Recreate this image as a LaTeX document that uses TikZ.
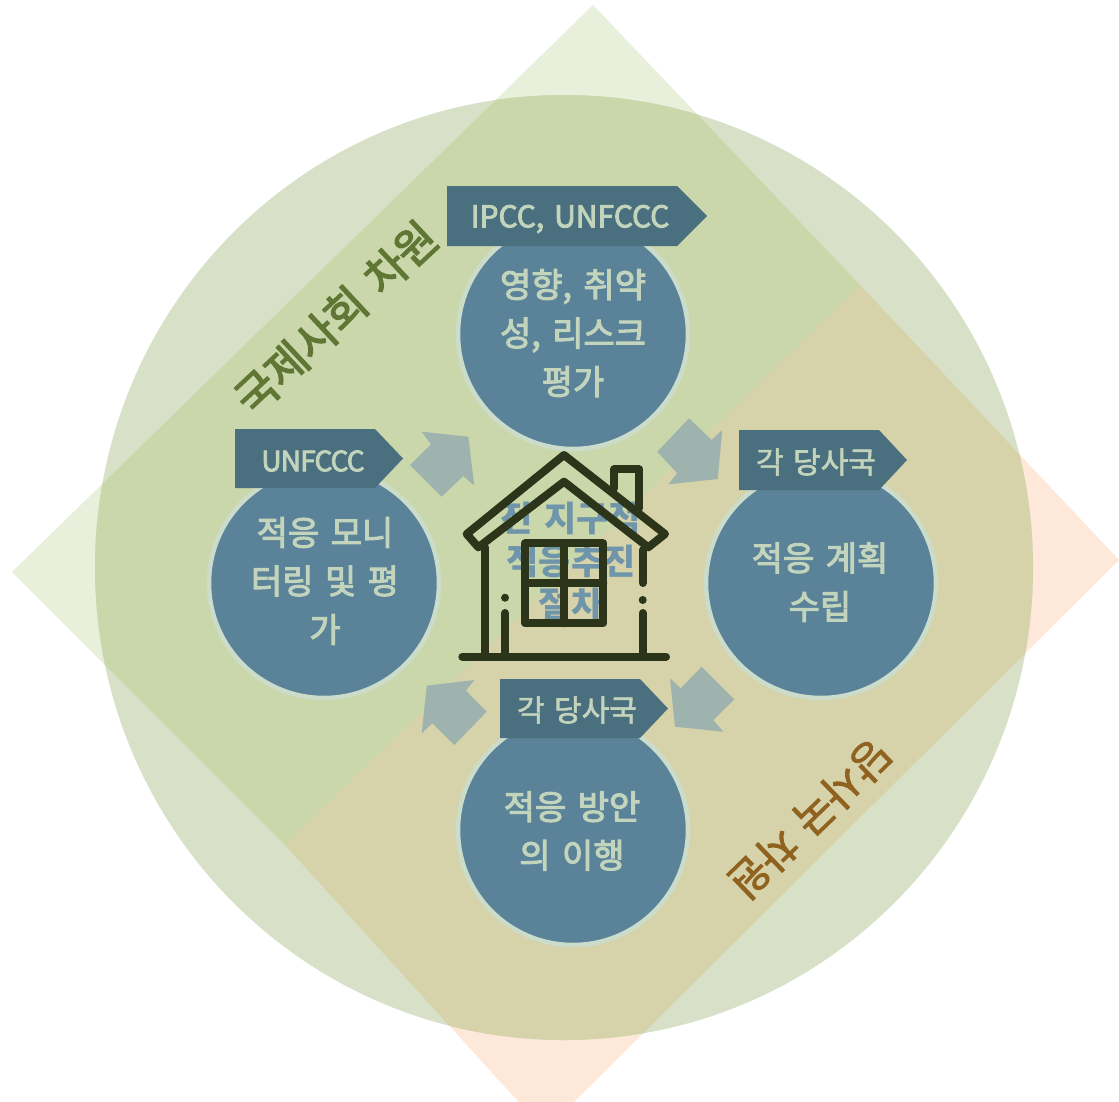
\documentclass[tikz,border=0pt]{standalone}
\usepackage{fontspec}
\setmainfont[WordSpace=1.4]{Noto Sans CJK KR}
\newfontfamily\semifont[WordSpace=1.5,FakeBold=3]{Noto Sans CJK KR}
\newfontfamily\lightsemi[WordSpace=1.4,FakeBold=2]{Noto Sans CJK KR}
\definecolor{gOnly}{HTML}{E8EFDB}
\definecolor{oOnly}{HTML}{FDE8DA}
\definecolor{cOnly}{HTML}{D8E1C8}
\definecolor{gOver}{HTML}{CAD7AB}
\definecolor{oOver}{HTML}{D6D2A9}
\definecolor{disc}{HTML}{5A8399}
\definecolor{discEdge}{HTML}{CBDDCA}
\definecolor{tagFill}{HTML}{4A6F7E}
\definecolor{tagText}{HTML}{C3D4BC}
\definecolor{arrowFill}{HTML}{9FB3AE}
\definecolor{houseLine}{HTML}{2C3419}
\definecolor{midText}{HTML}{6F95AA}
\tikzset{
  disc/.style={circle,draw=discEdge,line width=4.5,fill=disc,minimum size=230,inner sep=0},
  disclabel/.style={font=\fontsize{34}{48.5}\semifont\selectfont,text=tagText,align=center,inner sep=0},
  tagbox/.style={fill=tagFill},
  taglabel/.style={text=tagText,inner sep=0},
  blockarrow/.style={fill=arrowFill},
  house/.style={draw=houseLine,line width=8,line cap=round,line join=round},
}
\begin{document}
\begin{tikzpicture}[x=1pt,y=-1pt]
\useasboundingbox (0,0) rectangle (1119,1101);
\clip (0,0) rectangle (1119,1101);
\def\greenband{(593,5) -- (860,285) -- (285,845) -- (12,572) -- cycle}
\def\orangeband{(860,285) -- (1119,560) -- (545,1131) -- (285,845) -- cycle}
\fill[gOnly] \greenband;
\fill[oOnly] \orangeband;
\fill[cOnly] (564,567.5) ellipse[x radius=469,y radius=472.5];
\begin{scope}
  \clip (564,567.5) ellipse[x radius=469,y radius=472.5];
  \fill[gOver] \greenband;
  \fill[oOver] \orangeband;
\end{scope}
% block arrows
\fill[blockarrow] (421.7,431.7) -- (468.3,436.7) -- (474.3,485.7) -- (463.3,476) -- (441.7,496.7) -- (410,465) -- (431,444.3) -- cycle;
\fill[blockarrow] (722.3,430) -- (717.7,479) -- (668.3,484.3) -- (677.3,473.3) -- (657.3,451.7) -- (689,418.3) -- (711.7,440) -- cycle;
\fill[blockarrow] (474.3,680) -- (426.7,685.7) -- (421.7,733.3) -- (432.3,723.3) -- (454.3,745) -- (486.7,711.7) -- (466,690.7) -- cycle;
\fill[blockarrow] (670,678.3) -- (675,726.7) -- (723.3,731.7) -- (713.3,720) -- (734.3,699.3) -- (701.7,666.7) -- (680.7,688.3) -- cycle;
% discs
\node[disc] (top) at (573,334) {};
\node[disc] (left) at (324,583) {};
\node[disc] (right) at (821,583) {};
\node[disc] (bottom) at (573,830) {};
\node[disclabel] (toptext) at (573,333) {영향, 취약\\성, 리스크\\평가};
\node[disclabel] (lefttext) at (325,581) {적응 모니\\터링 및 평\\가};
\node[disclabel] (righttext) at (820,582) {적응 계획\\수립};
\node[disclabel] (bottomtext) at (572,831) {적응 방안\\의 이행};
% tags
\fill[tagbox] (447,186) -- (677,186) -- (707,216) -- (677,246) -- (447,246) -- cycle;
\fill[tagbox] (235,429) -- (375,429) -- (403,458.5) -- (375,488) -- (235,488) -- cycle;
\fill[tagbox] (739,430) -- (879,430) -- (907,460) -- (879,490) -- (739,490) -- cycle;
\fill[tagbox] (500,679) -- (640,679) -- (668,708.5) -- (640,738) -- (500,738) -- cycle;
\node[taglabel,font=\fontsize{30}{34}\semifont\selectfont] (tag1) at (570,219) {IPCC, UNFCCC};
\node[taglabel,font=\fontsize{28}{34}\semifont\selectfont] (tag2) at (313,461) {\addfontfeature{LetterSpace=-3}UNFCCC};
\node[taglabel,font=\fontsize{30}{34}\lightsemi\selectfont] (tag3) at (816,462) {각 당사국};
\node[taglabel,font=\fontsize{30}{34}\lightsemi\selectfont] (tag4) at (577,710) {각 당사국};
% rotated labels
\node[font=\fontsize{44}{44}\semifont\selectfont,text={rgb,255:red,95;green,118;blue,53},rotate=43,inner sep=0] (band1) at (336,318) {국제사회 차원};
\node[font=\fontsize{42}{42}\lightsemi\selectfont,text={rgb,255:red,143;green,98;blue,32},rotate=224,inner sep=0] (band2) at (810,819) {당사국 차원};
% centre text
\node[font=\fontsize{35}{43}\bfseries\selectfont,text=midText,align=center,inner sep=0] (mid) at (571,561) {전 지구적\\적응추진\\절차};
% house
\draw[house] (466.7,534) -- (564,455) -- (665,534) -- (648.3,547.3) -- (564,481.7) -- (478.3,547.3) -- cycle;
\draw[house] (614.3,488.3) -- (614.3,469.3) -- (639.3,469.3) -- (639.3,508.3);
\draw[house] (485,547.3) -- (485,656.7);
\draw[house] (642.7,550) -- (642.7,583);
\draw[house] (642.7,613) -- (642.7,656.7);
\draw[house] (505,613) -- (505,656.7);
\fill[houseLine] (505,597.7) circle[radius=4];
\fill[houseLine] (642.7,600) circle[radius=4];
\draw[house] (525,543.3) rectangle (603.3,623.3);
\draw[house] (564.3,543.3) -- (564.3,623.3);
\draw[house] (525,583.3) -- (603.3,583.3);
\draw[house] (462.3,656.7) -- (666,656.7);
\end{tikzpicture}
\end{document}
